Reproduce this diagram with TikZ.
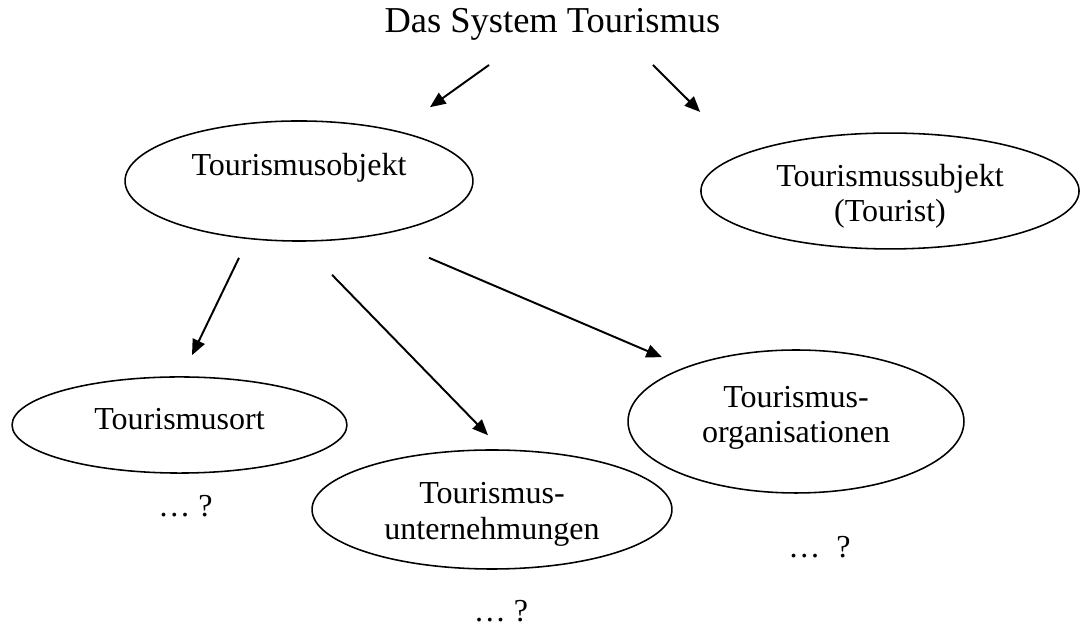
\documentclass[tikz,border=0pt]{standalone}
\usepackage{fontspec}
\setmainfont{Liberation Serif}
\usetikzlibrary{shapes.geometric,arrows.meta}

\begin{document}
\begin{tikzpicture}[x=0.384pt,y=-0.384pt,
			blase/.style={ellipse,draw=black,line width=0.6pt,inner sep=0pt,align=center,font=\fontsize{12.3}{13.8}\selectfont},
			pfeil/.style={-{Triangle[length=6pt,width=5pt]},line width=0.75pt},
			frage/.style={anchor=base,font=\fontsize{12.3}{13.8}\selectfont}]
			\useasboundingbox (0,0) rectangle (1081,628);
			\node[anchor=base,font=\fontsize{14}{16}\selectfont] (titel) at (552.5,33) {Das System Tourismus};
			\node[blase,minimum width=133.6pt,minimum height=46.1pt,text height=8pt,text depth=12pt] (objekt) at (299,181) {Tourismusobjekt};
			\node[blase,minimum width=145.2pt,minimum height=44.5pt,text height=26pt,text depth=2.2pt] (subjekt) at (890,191) {Tourismussubjekt\\(Tourist)};
			\node[blase,minimum width=128.6pt,minimum height=36.9pt,text height=8pt,text depth=4.9pt] (ort) at (179.5,425) {Tourismusort};
			\node[blase,minimum width=138.2pt,minimum height=45.7pt,text height=26pt,text depth=3.3pt] (untern) at (492,509.5) {Tourismus-\\unternehmungen};
			\node[blase,minimum width=129pt,minimum height=54.9pt,text height=26pt,text depth=9.5pt] (org) at (796,421.5) {Tourismus-\\organisationen};
			\node[frage] (ortfrage) at (185.5,517) {… ?};
			\node[frage] (unternfrage) at (501,622) {… ?};
			\node[frage] (orgfrage) at (819.5,558) {…\ \ ?};
			\draw[pfeil] ([shift={(-63.5,32)}]titel.base) -- ([shift={(131,-13)}]objekt.north);
			\draw[pfeil] ([shift={(100.5,32)}]titel.base) -- ([shift={(0,-79)}]subjekt.west);
			\draw[pfeil] ([shift={(-60,16)}]objekt.south) -- ([shift={(12.5,-21)}]ort.north);
			\draw[pfeil] ([shift={(33,33)}]objekt.south) -- ([shift={(-4,-14)}]untern.north);
			\draw[pfeil] ([shift={(130,16)}]objekt.south) -- ([shift={(-134,8)}]org.north);
		\end{tikzpicture}
\end{document}
